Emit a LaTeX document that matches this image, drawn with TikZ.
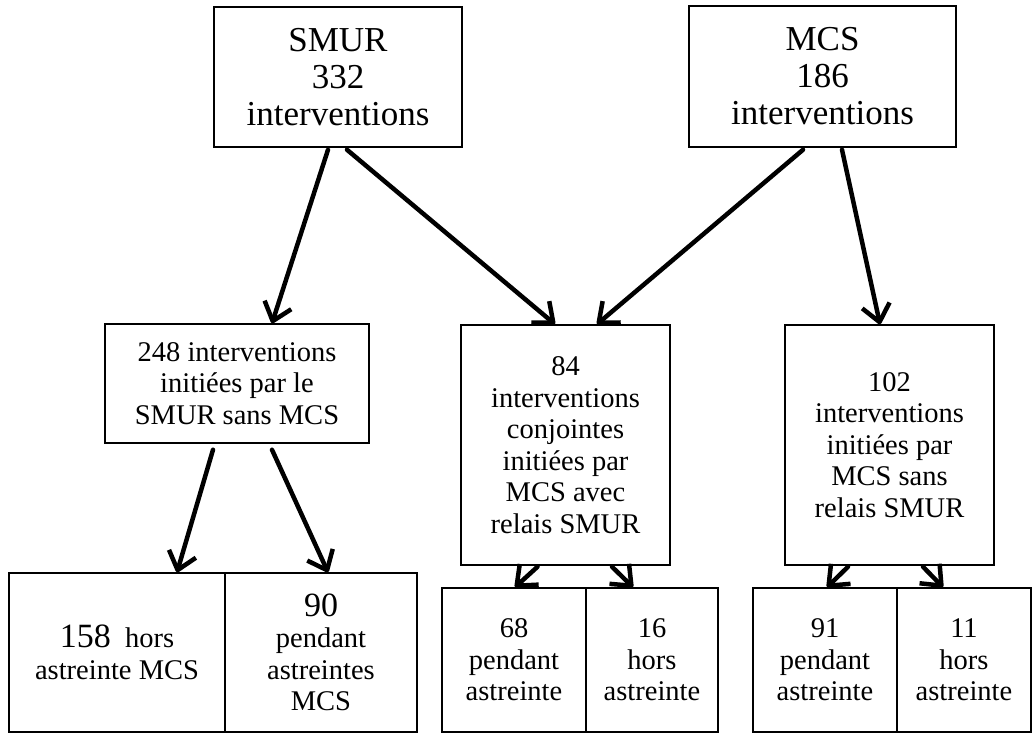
\documentclass[tikz,border=0pt]{standalone}
\usepackage{fontspec}
\setmainfont{Liberation Serif}
\usetikzlibrary{arrows.meta}

\tikzset{
  boite/.style={draw, line width=1.5pt, inner sep=0pt, align=center,
    font=\fontsize{28.5}{31.5}\selectfont},
  grande/.style={boite, font=\fontsize{35}{37}\selectfont},
  fleche/.style={line width=4.5pt, line cap=round,
    -{Straight Barb[length=17pt,width=28pt,line join=round]}}
}

\begin{document}
\begin{tikzpicture}[x=1pt,y=-1pt]
  \useasboundingbox (0,0) rectangle (1033,733);

  % niveau 1
  \node[grande, minimum width=248pt, minimum height=140pt] (smur) at (338,77)
    {SMUR\\332\\interventions};
  \node[grande, minimum width=267pt, minimum height=141pt] (mcs) at (822.5,76.5)
    {MCS\\186\\interventions};

  % niveau 2
  \node[boite, minimum width=264pt, minimum height=119pt] (n248) at (237,383.5)
    {248 interventions\\initiées par le\\SMUR sans MCS};
  \node[boite, minimum width=209pt, minimum height=240pt] (n84) at (565.5,445)
    {84\\interventions\\conjointes\\initiées par\\MCS avec\\relais SMUR};
  \node[boite, minimum width=209pt, minimum height=240pt] (n102) at (889.5,445)
    {102\\interventions\\initiées par\\MCS sans\\relais SMUR};

  % niveau 3
  \node[boite, minimum width=216pt, minimum height=159pt] (n158) at (117,652.5)
    {{\fontsize{34}{36}\selectfont 158}~ hors\\astreinte MCS};
  \node[boite, minimum width=192pt, minimum height=159pt] (n90) at (321,652.5)
    {{\fontsize{34}{36}\selectfont 90}\\pendant\\astreintes\\MCS};
  \node[boite, minimum width=144pt, minimum height=144pt] (n68) at (514,660)
    {68\\pendant\\astreinte};
  \node[boite, minimum width=132pt, minimum height=144pt] (n16) at (652,660)
    {16\\hors\\astreinte};
  \node[boite, minimum width=144pt, minimum height=144pt] (n91) at (825,660)
    {91\\pendant\\astreinte};
  \node[boite, minimum width=134pt, minimum height=144pt] (n11) at (964,660)
    {11\\hors\\astreinte};

  \draw[fleche] ([xshift=-10pt,yshift=-2pt]smur.south) -- ([xshift=35pt]n248.north);
  \draw[fleche] ([xshift=9pt,yshift=-2pt]smur.south) -- ([xshift=-10.5pt]n84.north);
  \draw[fleche] ([xshift=-19.5pt,yshift=-2pt]mcs.south) -- ([xshift=31.5pt]n84.north);
  \draw[fleche] ([xshift=19.5pt,yshift=-2pt]mcs.south) -- ([xshift=-9.5pt]n102.north);
  \draw[fleche] ([xshift=-24pt,yshift=-6pt]n248.south) -- ([xshift=60pt]n158.north);
  \draw[fleche] ([xshift=35pt,yshift=-6pt]n248.south) -- ([xshift=7pt]n90.north);
  \draw[fleche] ([xshift=-28pt,yshift=-1pt]n84.south) -- ([xshift=1pt]n68.north);
  \draw[fleche] ([xshift=46.5pt,yshift=-1pt]n84.south) -- ([xshift=-19pt]n16.north);
  \draw[fleche] ([xshift=-41.5pt,yshift=-1pt]n102.south) -- ([xshift=2pt]n91.north);
  \draw[fleche] ([xshift=33.5pt,yshift=-1pt]n102.south) -- ([xshift=-21pt]n11.north);
\end{tikzpicture}
\end{document}
